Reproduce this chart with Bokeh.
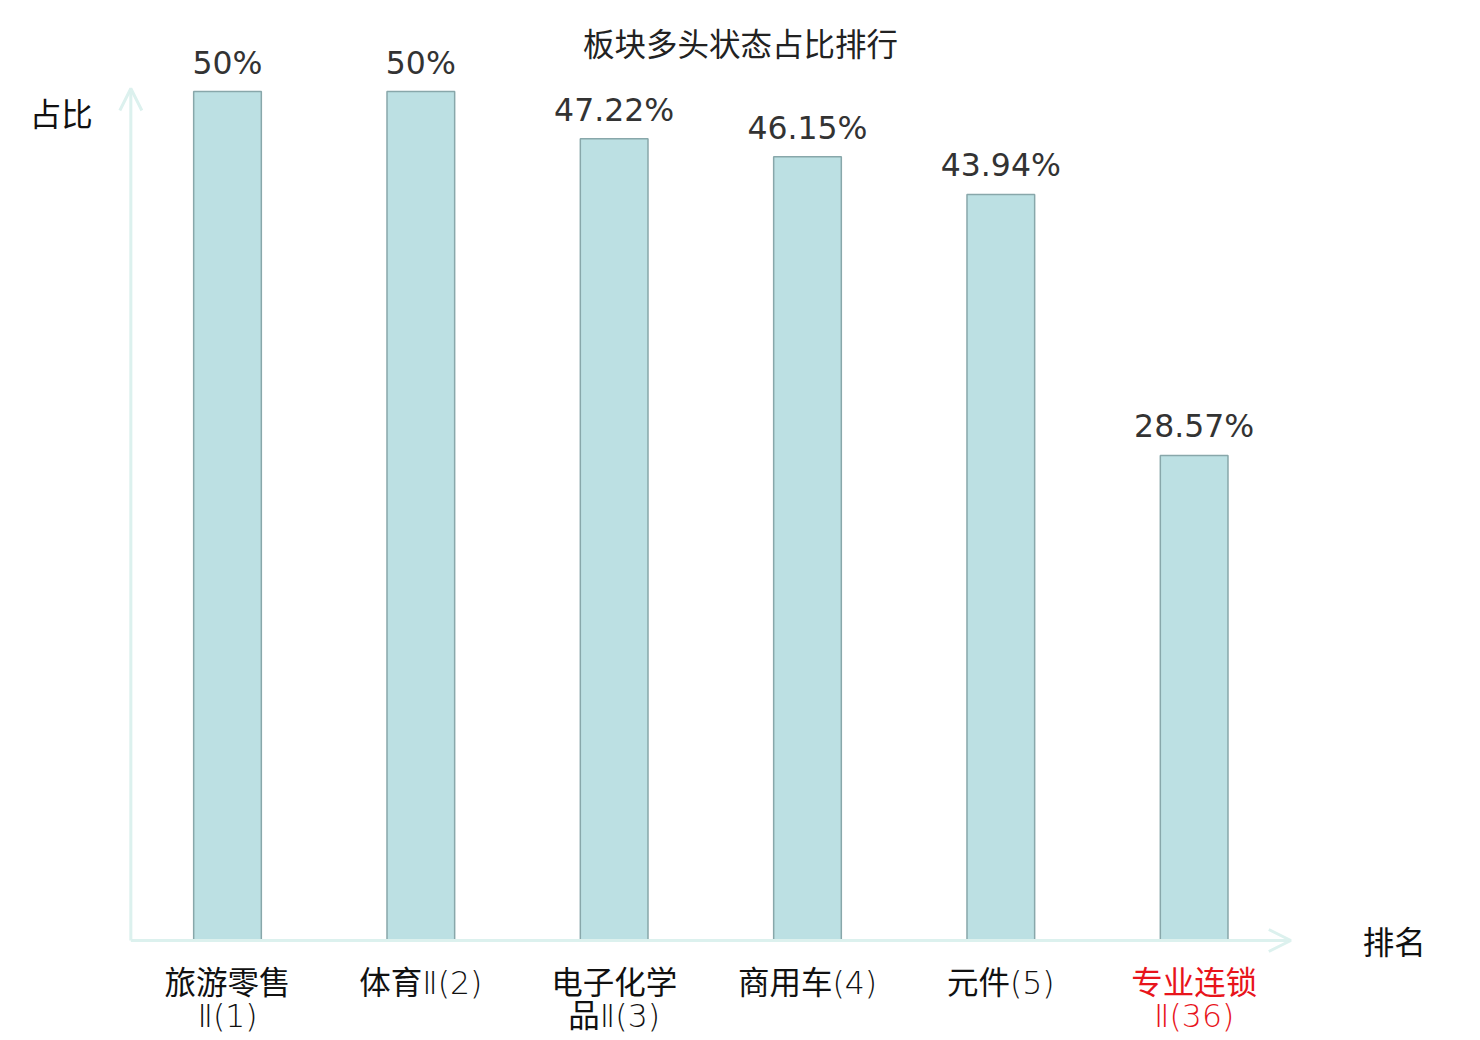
from bokeh.plotting import figure
from bokeh.models import ColumnDataSource, LabelSet, Label, Arrow, OpenHead, Range1d
from bokeh.core.properties import value
from bokeh.embed import file_html
from bokeh.resources import INLINE

# ---- data ----
categories = ["旅游零售Ⅱ(1)", "体育Ⅱ(2)", "电子化学品Ⅱ(3)", "商用车(4)", "元件(5)", "专业连锁Ⅱ(36)"]
tick_labels = ["旅游零售\nⅡ(1)", "体育Ⅱ(2)", "电子化学\n品Ⅱ(3)", "商用车(4)", "元件(5)", "专业连锁\nⅡ(36)"]
values = [50, 50, 47.22, 46.15, 43.94, 28.57]
label_colors = ["#111111", "#111111", "#111111", "#111111", "#111111", "#e8141b"]
title_text = "板块多头状态占比排行"
y_name = "占比"
x_name = "排名"

CJK = "Noto Sans CJK SC"
TICK_FONT = "'DejaVu Sans Light', 'Noto Sans CJK SC'"
AXIS_COLOR = "#dcf1ee"

W, H = 1480, 1040
# layout (pixels)
first_center_px = 227.0
cat_step_px = 193.33
zero_px = 940.0
px_per_unit = 16.98
y_axis_top_px = 88.0

n = len(categories)
idx = list(range(n))

x_start = (0 - first_center_px) / cat_step_px
x_end = (W - first_center_px) / cat_step_px
y_end = zero_px / px_per_unit
y_start = -(H - zero_px) / px_per_unit
y_axis_top = (zero_px - y_axis_top_px) / px_per_unit

line1 = [t.split("\n")[0] for t in tick_labels]
line2 = [t.split("\n")[1] if "\n" in t else "" for t in tick_labels]

src = ColumnDataSource(dict(
    x=idx,
    val=values,
    vtxt=[f"{v:g}%" for v in values],
    l1=line1,
    l2=line2,
    zero=[0] * n,
    tcol=label_colors,
))

p = figure(width=W, height=H, x_range=Range1d(x_start, x_end), y_range=Range1d(y_start, y_end),
           x_axis_type=None, y_axis_type=None, output_backend="svg",
           toolbar_location=None, title=None, min_border=0)
p.outline_line_color = None
p.xgrid.visible = False
p.ygrid.visible = False
p.background_fill_color = "white"
p.border_fill_color = "white"

p.vbar(x="x", top="val", width=0.35, source=src,
       fill_color="#bce0e3", line_color="#88a7aa", line_width=1.5)

# value labels
p.add_layout(LabelSet(x="x", y="val", text="vtxt", source=src, y_offset=18,
                      text_align="center", text_baseline="alphabetic",
                      text_font=value("DejaVu Sans"), text_font_size="31.5px",
                      text_color="#333333"))

# category labels (two lines)
for col, off in (("l1", -53), ("l2", -86)):
    p.add_layout(LabelSet(x="x", y="zero", text=col, source=src, y_offset=off,
                          text_align="center", text_baseline="alphabetic",
                          text_font=value(TICK_FONT), text_font_size="31.5px",
                          text_color="tcol"))

# axis arrows
ax0 = -0.5
ax1 = n - 0.5
p.add_layout(Arrow(x_start=ax0, y_start=0, x_end=ax1, y_end=0,
                   line_color=AXIS_COLOR, line_width=3,
                   end=OpenHead(size=22, line_color=AXIS_COLOR, line_width=3)))
p.add_layout(Arrow(x_start=ax0, y_start=0, x_end=ax0, y_end=y_axis_top,
                   line_color=AXIS_COLOR, line_width=3,
                   end=OpenHead(size=22, line_color=AXIS_COLOR, line_width=3)))

# title and axis names
p.add_layout(Label(x=(x_start + x_end) / 2, y=y_end, y_offset=-41, text=title_text,
                   text_align="center", text_baseline="alphabetic",
                   text_font=CJK, text_font_size="31.5px", text_color="#222222"))
p.add_layout(Label(x=ax0, y=y_axis_top, x_offset=-38, y_offset=-23, text=y_name,
                   text_align="right", text_baseline="middle",
                   text_font=CJK, text_font_size="31.5px", text_color="#111111"))
p.add_layout(Label(x=ax1, y=0, x_offset=72, y_offset=1, text=x_name,
                   text_align="left", text_baseline="middle",
                   text_font=CJK, text_font_size="31.5px", text_color="#111111"))

open("out.html", "w").write(file_html(p, INLINE))
